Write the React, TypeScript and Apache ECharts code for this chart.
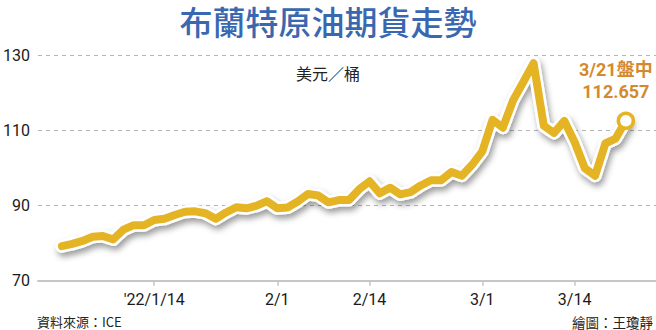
import React, { useEffect, useRef } from "react";
import * as echarts from "echarts";

// Trading days shown on the chart (2022)
const dates = [
  "1/3", "1/4", "1/5", "1/6", "1/7", "1/10", "1/11", "1/12", "1/13", "1/14",
  "1/17", "1/18", "1/19", "1/20", "1/21", "1/24", "1/25", "1/26", "1/27", "1/28",
  "1/31", "2/1", "2/2", "2/3", "2/4", "2/7", "2/8", "2/9", "2/10", "2/11",
  "2/14", "2/15", "2/16", "2/17", "2/18", "2/21", "2/22", "2/23", "2/24", "2/25",
  "2/28", "3/1", "3/2", "3/3", "3/4", "3/7", "3/8", "3/9", "3/10", "3/11",
  "3/14", "3/15", "3/16", "3/17", "3/18", "3/21",
];

// Brent futures (USD / barrel)
const prices = [
  79.2, 79.8, 80.6, 81.7, 81.9, 81.0, 83.6, 84.8, 84.8, 86.2,
  86.5, 87.5, 88.4, 88.5, 88.0, 86.5, 88.2, 89.6, 89.3, 90.0,
  91.2, 89.3, 89.5, 91.1, 93.1, 92.7, 90.9, 91.5, 91.5, 94.4,
  96.5, 93.3, 94.8, 93.0, 93.6, 95.4, 96.8, 96.8, 99.0, 98.0,
  100.9, 104.5, 112.9, 110.8, 118.1, 123.0, 128.0, 111.3, 109.4, 112.6,
  107.0, 100.0, 98.0, 106.6, 107.9, 112.657,
];

const tickDates = ["1/14", "2/1", "2/14", "3/1", "3/14"];
const tickLabels = ["'22/1/14", "2/1", "2/14", "3/1", "3/14"];

const yMin = 70;
const yMax = 130;
const yStep = 20;

const LINE = "#E5B424";
const NOTE = "#D4892E";
const FONT = 'Roboto, "Noto Sans CJK TC", sans-serif';
const CJK = '"Noto Sans CJK TC", sans-serif';

export default function App() {
  const ref = useRef<HTMLDivElement>(null);

  useEffect(() => {
    const chart = echarts.init(ref.current!, null, { renderer: "svg" });
    const pts = prices.map((v, i) => [i, v]);
    const last = pts.length - 1;
    const tickIdx = tickDates.map((d) => dates.indexOf(d));

    chart.setOption({
      animation: false,
      backgroundColor: "#ffffff",
      grid: { left: 37, right: 0, top: 55.7, bottom: 49.3 },
      xAxis: {
        type: "value",
        min: -2.34,
        max: 57.94,
        axisLine: { show: true, onZero: false, lineStyle: { color: "#c6c6c6", width: 2 } },
        axisTick: {
          show: true,
          customValues: tickIdx,
          length: 5,
          lineStyle: { color: "#c6c6c6", width: 1.5 },
        },
        axisLabel: {
          customValues: tickIdx,
          formatter: (v: number) => tickLabels[tickIdx.indexOf(v)] ?? "",
          fontSize: 16,
          color: "#1a1a1a",
          fontFamily: FONT,
          margin: 11,
        },
        splitLine: { show: false },
      },
      yAxis: {
        type: "value",
        min: yMin,
        max: yMax,
        interval: yStep,
        axisLine: { show: false },
        axisTick: { show: false },
        axisLabel: { fontSize: 16, color: "#1a1a1a", fontFamily: FONT, margin: 8 },
        splitLine: { lineStyle: { type: [4, 4], color: "#b4b4b4", width: 1 } },
      },
      series: [
        {
          type: "line",
          data: pts,
          symbol: "none",
          silent: true,
          z: 2,
          lineStyle: {
            color: "#ffffff",
            width: 13,
            cap: "round",
            join: "round",
            shadowColor: "rgba(0,0,0,0.4)",
            shadowBlur: 6,
            shadowOffsetX: 2,
            shadowOffsetY: 4,
          },
        },
        {
          type: "line",
          data: pts,
          symbol: "none",
          z: 3,
          lineStyle: { color: LINE, width: 8, cap: "round", join: "round" },
        },
        {
          type: "scatter",
          data: [pts[last]],
          symbol: "circle",
          symbolSize: 15,
          z: 4,
          itemStyle: { color: "#ffffff", borderColor: LINE, borderWidth: 3.5, opacity: 1 },
          label: {
            show: true,
            formatter: `${dates[last]}盤中\n${prices[last]}`,
            position: "top",
            distance: 9,
            offset: [-10, 0],
            fontSize: 18,
            fontWeight: "bold",
            lineHeight: 22,
            color: NOTE,
            fontFamily: FONT,
          },
        },
      ],
      graphic: [
        {
          type: "text",
          x: 328,
          y: 21,
          style: {
            text: "布蘭特原油期貨走勢",
            fontSize: 33,
            fontWeight: 500,
            fill: "#3A68B0",
            align: "center",
            verticalAlign: "middle",
            fontFamily: CJK,
          },
        },
        {
          type: "text",
          x: 360,
          y: 73,
          style: {
            text: "美元／桶",
            fontSize: 16,
            fill: "#222",
            align: "right",
            verticalAlign: "middle",
            fontFamily: CJK,
          },
        },
        {
          type: "text",
          x: 37,
          y: 321.5,
          style: {
            text: "資料來源：ICE",
            fontSize: 13,
            fill: "#222",
            align: "left",
            verticalAlign: "middle",
            fontFamily: CJK,
          },
        },
        {
          type: "text",
          x: 653,
          y: 321.5,
          style: {
            text: "繪圖：王瓊靜",
            fontSize: 13.5,
            fill: "#222",
            align: "right",
            verticalAlign: "middle",
            fontFamily: CJK,
          },
        },
      ],
    });

    return () => chart.dispose();
  }, []);

  return (
    <div
      ref={ref}
      style={{ position: "fixed", left: 0, top: 0, width: 656, height: 330, background: "#fff" }}
    />
  );
}
